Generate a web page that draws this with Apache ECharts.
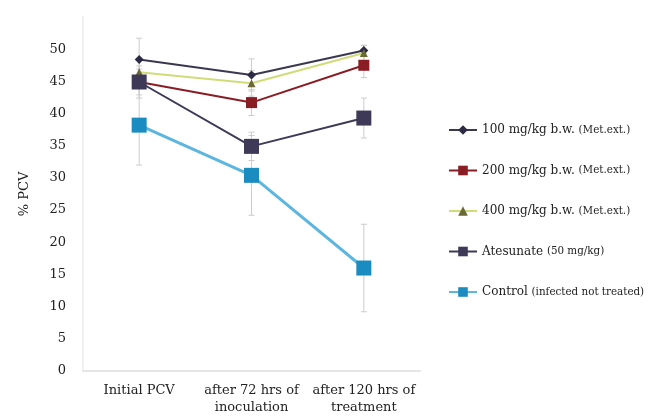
<!DOCTYPE html>
<html>
<head>
<meta charset="utf-8">
<script src="https://cdn.jsdelivr.net/npm/echarts@6/dist/echarts.min.js"></script>
<style>html,body{margin:0;padding:0;background:#fff;}#c{width:653px;height:420px;}</style>
</head>
<body>
<div id="c"></div>
<script>
var categories = ['Initial PCV', 'after 72 hrs of\ninoculation', 'after 120 hrs of\ntreatment'];
var seriesNames = ['100 mg/kg b.w. (Met.ext.)', '200 mg/kg b.w. (Met.ext.)', '400 mg/kg b.w. (Met.ext.)', 'Atesunate (50 mg/kg)', 'Control (infected not treated)'];
var dose100 = [48.4, 46.0, 49.8];
var dose200 = [44.9, 41.7, 47.5];
var dose400 = [46.4, 44.7, 49.4];
var atesunate = [44.9, 34.9, 39.3];
var control = [38.2, 30.4, 16.0];
var err100 = [3.3, 2.5, 0.8];
var err200 = [2.0, 2.0, 1.9];
var err400 = [2.0, 2.0, 1.2];
var errAtesunate = [2.5, 2.2, 3.1];
var errControl = [6.2, 6.2, 6.8];
var yTicks = [0, 5, 10, 15, 20, 25, 30, 35, 40, 45, 50];

var values = [dose100, dose200, dose400, atesunate, control];
var errs = [err100, err200, err400, errAtesunate, errControl];
var lineColors = ['#3a3850', '#8a1c24', '#cfdc78', '#3e3957', '#5db6df'];
var markerColors = ['#2c2a45', '#8a1c24', '#6b6a35', '#3e3957', '#1a8cc0'];
var symbols = ['diamond', 'rect', 'triangle', 'rect', 'rect'];
var sizes = [9, 11, 8, 15, 15];
var FONT = 'DejaVu Serif';

var errData = [];
values.forEach(function (v, s) {
  v.forEach(function (y, i) { errData.push([i, y - errs[s][i], y + errs[s][i]]); });
});

var series = [{
  type: 'custom',
  name: 'err',
  silent: true,
  z: 1,
  data: errData,
  renderItem: function (params, api) {
    var lo = api.coord([api.value(0), api.value(1)]);
    var hi = api.coord([api.value(0), api.value(2)]);
    var w = 3;
    var st = { stroke: '#cccccc', lineWidth: 1 };
    return { type: 'group', children: [
      { type: 'line', shape: { x1: lo[0], y1: lo[1], x2: hi[0], y2: hi[1] }, style: st },
      { type: 'line', shape: { x1: lo[0] - w, y1: lo[1], x2: lo[0] + w, y2: lo[1] }, style: st },
      { type: 'line', shape: { x1: hi[0] - w, y1: hi[1], x2: hi[0] + w, y2: hi[1] }, style: st }
    ]};
  }
}];
values.forEach(function (v, s) {
  series.push({
    type: 'line',
    name: seriesNames[s],
    data: v,
    symbol: symbols[s],
    symbolSize: sizes[s],
    z: 2 + s,
    lineStyle: { color: lineColors[s], width: s === 4 ? 3 : 2 },
    itemStyle: { color: markerColors[s] }
  });
});

var chart = echarts.init(document.getElementById('c'));
chart.setOption({
  animation: false,
  backgroundColor: '#fff',
  textStyle: { fontFamily: FONT },
  grid: { left: 83, right: 233, top: 17, bottom: 49 },
  legend: {
    orient: 'vertical',
    left: 443,
    top: 119,
    itemGap: 28.5,
    itemWidth: 28,
    itemHeight: 12,
    data: seriesNames,
    formatter: function (n) {
      var i = n.indexOf('(');
      return '{a|' + n.slice(0, i) + '}{p|' + n.slice(i) + '}';
    },
    textStyle: {
      rich: {
        a: { fontFamily: FONT, fontSize: 12, color: '#222', height: 14 },
        p: { fontFamily: 'DejaVu Serif Condensed', fontSize: 11.5, color: '#222', height: 14 }
      }
    }
  },
  xAxis: {
    type: 'category',
    data: categories,
    axisLine: { lineStyle: { color: '#e6e6e6', width: 2 } },
    axisTick: { show: false },
    axisLabel: { color: '#222', fontSize: 13, fontFamily: FONT, lineHeight: 17, margin: 11, interval: 0 }
  },
  yAxis: {
    type: 'value',
    min: 0,
    max: 55,
    interval: 5,
    name: '% PCV',
    nameLocation: 'middle',
    nameGap: 52,
    nameTextStyle: { color: '#222', fontSize: 13, fontFamily: FONT },
    axisLine: { show: true, lineStyle: { color: '#f0f0f0', width: 2 } },
    axisTick: { show: false },
    splitLine: { show: false },
    axisLabel: {
      color: '#222', fontSize: 13, fontFamily: FONT, margin: 17,
      formatter: function (v) { return yTicks.indexOf(v) >= 0 ? String(v) : ''; }
    }
  },
  series: series
});
</script>
</body>
</html>
